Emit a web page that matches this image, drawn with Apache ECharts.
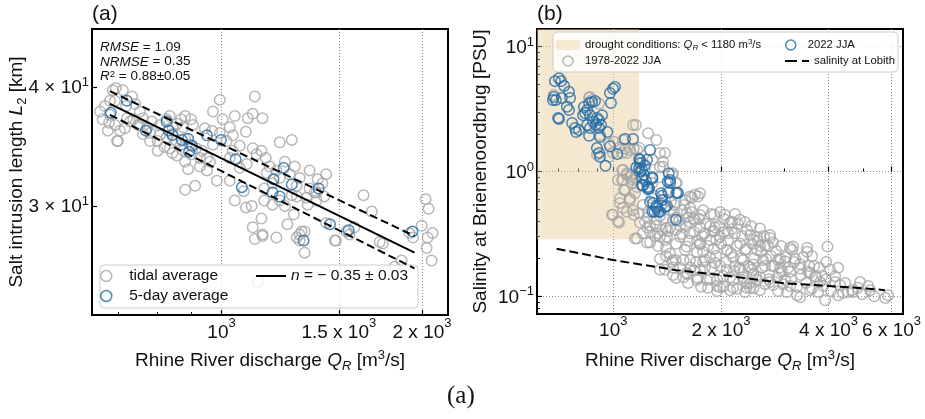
<!DOCTYPE html>
<html>
<head>
<meta charset="utf-8">
<script src="https://cdn.jsdelivr.net/npm/echarts@6.0.0/dist/echarts.min.js"></script>
<style>
html, body { margin: 0; padding: 0; background: #fff; }
#chart { width: 925px; height: 419px; }
</style>
</head>
<body>
<div id="chart"></div>
<script>
var FONT = '"Liberation Sans", Arial, sans-serif';
var GREY = '#a6a6a6';
var BLUE = '#1f6aa8';
var DROUGHT = 'rgba(232,204,150,0.45)';

// ---- panel (a): salt intrusion length vs discharge ----
var tidalAvg = [
  [687,39.7],[694,39.9],[711,39.7],[680,38.7],[692,38.7],[680,37.4],[678,36.7],[692,36.5],[716,36.2],[699,35.1],
  [734,39.1],[742,38.4],[754,37.7],[737,37.0],[721,37.1],[762,37.1],[704,36.0],[749,36.5],[802,34.3],[773,36.2],
  [781,35.8],[786,36.8],[808,36.5],[827,37.0],[836,37.3],[844,36.3],[857,36.6],[869,37.0],[882,37.3],[900,37.0],
  [876,36.3],[844,35.7],[827,35.4],[854,35.1],[836,34.5],[869,34.8],[882,35.3],[897,34.8],[916,34.5],[900,34.0],
  [928,33.7],[951,33.7],[961,33.4],[882,33.4],[891,32.8],[928,33.0],[968,36.0],[971,37.7],[994,38.8],[1004,37.0],
  [1029,36.3],[1040,35.6],[994,35.8],[1018,35.1],[971,34.8],[1040,34.3],[1029,33.7],[1065,32.9],[1091,33.2],[1114,34.5],
  [1129,34.0],[1095,37.1],[1122,39.1],[1152,37.1],[1114,37.5],[1165,33.7],[1181,33.0],[1209,32.7],[1193,31.7],[1223,32.1],
  [1275,35.2],[1266,32.4],[1310,32.1],[1297,31.5],[1356,31.3],[1389,31.0],[1436,32.4],[1417,31.7],[984,31.9],[951,32.7],
  [913,31.5],[882,31.2],[844,34.1],[802,35.1],[762,35.7],[697,35.1],
  [1088,29.9],[1110,30.0],[1193,30.1],[1284,29.4],[1256,28.7],[1114,28.5],[1152,28.0],[1122,27.7],[1209,27.8],[1310,28.0],
  [1310,27.6],[1333,28.2],[1333,26.8],[1480,27.6],[1436,28.8],[1541,28.2],[1557,28.0],[1584,28.5],[1681,29.6],[1728,27.5],
  [1746,27.4],[1820,25.9],[1863,26.3],[1916,28.1],[1998,28.6],[2025,30.5],[2039,27.8],[2074,28.1],[2032,27.1],[2067,26.3],
  [1939,27.8],[2046,29.8],[1133,25.0],[1634,30.8],[1347,30.1],[1389,30.4],[1275,30.8],
  [1223,30.4],[1223,35.0],[1159,31.3],[1342,30.6],[1297,30.7],[1380,31.0],[1485,27.6],[1319,28.2],[1297,27.8],[1152,27.9],
  [906,36.5],[944,36.2],[935,34.3],[876,34.3],[857,33.9],[821,34.6],[808,35.6],[781,35.1],[754,36.5],[729,36.8],
  [668,38.2],[663,37.0],[675,36.0],[657,37.7],[719,38.2],[1047,37.3],[1065,34.7],[1088,35.9],[1148,34.3],[1169,32.5],
  [1245,33.4],[1288,33.0],[1356,32.7],[1394,32.0],[1426,30.7],[1245,30.0],[1159,30.4],[1080,31.1],[1047,30.4],[1148,29.1],[1029,31.9]
];
var fiveDayAvg = [
  [682,37.6],[721,38.7],[770,36.0],[827,36.8],[833,36.0],[844,35.6],[872,35.2],[891,35.3],[903,34.7],[894,34.2],
  [951,35.6],[998,35.2],[1050,33.6],[1073,31.4],[1197,32.0],[1240,32.9],[1275,31.6],[1193,31.0],[1223,30.7],[1399,31.3],
  [1455,28.7],[1552,28.3],[1328,27.6],[1935,28.2]
];
var fitQ = [680, 1949];
var fitL = [38.4, 26.8];
var fitUpperL = [39.6, 27.9];
var fitLowerL = [37.4, 25.8];

var xRangeA = [639.1, 2188];
var yRangeA = [23.05, 46.03];
var xTicksA = [1000, 1500, 2000];
var xTickLabelsA = ['10^3', '1.5 x 10^3', '2 x 10^3'];
var xMinorA = [700, 800, 900];
var yTicksA = [30, 40];
var yTickLabelsA = ['3 \u00d7 10^1', '4 \u00d7 10^1'];

// ---- panel (b): salinity at Brienenoordbrug vs discharge ----
var jjaAll = [
  [682,4.1],[855,3.9],[872,3.74],[913,3.5],[889,2.36],[918,1.96],[1005,1.73],[973,1.67],[1038,1.55],[1079,1.52],
  [1113,1.49],[1157,2.36],[1142,1.52],[1058,1.41],[1092,1.41],[1165,1.49],[1058,1.03],[1092,0.94],[1128,0.94],[1071,0.71],
  [1044,0.61],[1113,0.59],[1150,0.67],[1165,0.75],[992,0.45],[1038,0.39],[1142,0.45],[1150,0.29],[1092,0.475],[1181,0.465],
  [900,1.36],[973,1.31],[861,3.96],[1065,1.79],[998,1.41],[1065,1.03],[1113,0.9],[1058,0.855],[1136,2.36],[1181,1.55],
  [1243,0.75],[1351,1.41],[1351,1.09],[1378,1.2],[1468,0.97],[1505,0.81],[1639,0.63],[1748,0.67],[1725,0.63],[1031,0.4],
  [1065,0.51],[1165,0.29],[1243,0.27],[1333,0.32],[1413,0.3],[1468,0.41],[1441,0.355],[1604,0.154],[1725,0.14],[1468,0.195],
  [1675,0.42],[1900,0.33],[2121,0.39],[2190,0.32],[2366,0.34],[2573,0.35],[2744,0.31],[2800,0.27],[3122,0.245],[3183,0.25],
  [3485,0.245],[3972,0.25],[3122,0.157],[3508,0.157],[3690,0.143],[3788,0.13],[3915,0.093],[3330,0.098],[4307,0.123],[4390,0.106],
  [4650,0.112],[4830,0.117],[5760,0.097],[2573,0.142],[2870,0.14],[2220,0.115],[2360,0.117],[2030,0.12],[2413,0.17],[2927,0.17],
  [2927,0.2],[2623,0.195],[1748,0.26],[1989,0.175],[1826,0.135],[2163,0.135],[2800,0.123],[2465,0.283],[3163,0.235],[3485,0.227],
  [2889,0.195],[3551,0.154],[3838,0.146],[2965,0.157],[2780,0.175],[4680,0.108],[4250,0.102],[3740,0.108],[3551,0.112],[3265,0.102],
  [3060,0.108],[2573,0.112],[2413,0.117],[5870,0.102],[1692,0.65],[1660,0.62],[1604,0.465],[1692,0.409],[2149,0.395],[2413,0.31],
  [2524,0.3],[1495,0.425],[1243,0.355],[1267,0.27],[1441,0.22],[1468,0.17],[1614,0.15],[1748,0.163],[1952,0.135],[1989,0.118],
  [2163,0.117],[2360,0.127],[2465,0.116],[1404,0.245],[1351,0.3],[1537,0.3],[1604,0.25],[1748,0.265],[1865,0.283],[1989,0.3],
  [1714,0.225],[1865,0.205],[2075,0.235],[2163,0.205],[2262,0.265],[2306,0.195],[1925,0.185],[1572,0.195],[2075,0.163],[2262,0.163],
  [2465,0.18],[2524,0.235],[2465,0.15],[1495,0.34],[1748,0.355],[1925,0.355],[1404,0.35],[1320,0.41],[1243,0.425],[1188,0.39],
  [1211,0.32],[1639,0.32],[1803,0.32],[2094,0.32],[1351,0.2],[1495,0.195],[1803,0.17],[1647,0.17],[1468,0.148],[1572,0.142],
  [1714,0.135],[1840,0.117],[2121,0.142],[2306,0.142],[2524,0.135],[1079,0.71],[1113,0.61],[1044,0.56],[998,0.45],[1136,0.49],
  [1128,0.81],[1065,0.855],[1092,0.97],[1150,0.89],[1495,0.81],[1614,0.43],[1555,0.49],[1251,2.03],[1320,1.79],[1395,1.41],
  [1495,0.67],[1031,0.855],[1136,0.855],[1203,1.17],[1226,1.03],[1286,1.24],[1378,1.09],[1460,0.94],[1351,0.9],[1286,0.81],
  [1420,0.71],[1303,0.64],[1395,0.59],[1487,0.54],[1589,0.59],[1351,0.44],[1441,0.49],[1537,0.37],[1639,0.51],[1784,0.49],
  [1912,0.45],[2049,0.45],[2262,0.41],[2337,0.235],[2656,0.255],[2656,0.175],[3025,0.19],[3224,0.2],[3330,0.167],[3644,0.175],
  [4040,0.163],[4170,0.13],[4900,0.13],[5226,0.112],[3025,0.135],[2744,0.13],[1912,0.24],[1639,0.195],[1351,0.163],[1267,0.37],
  [1395,0.283],[1784,0.19],[2190,0.175],[1952,0.11],
  // dense cloud 1300-4000 m3/s
  [1211,0.538],[1250,0.474],[1283,0.613],[1317,0.366],[1369,0.538],[1386,0.425],[1422,0.334],[1450,0.57],[1478,0.474],[1498,0.263],
  [1527,0.402],[1557,0.316],[1577,0.538],[1597,0.366],[1628,0.278],[1660,0.474],[1682,0.328],[1704,0.188],[1737,0.417],[1771,0.304],
  [1782,0.227],[1817,0.38],[1841,0.253],[1877,0.457],[1889,0.169],[1914,0.334],[1938,0.21],[1976,0.366],[2002,0.263],[2028,0.145],
  [2041,0.417],[2067,0.188],[2094,0.278],[2135,0.222],[2149,0.346],[2176,0.16],[2219,0.253],[2233,0.38],[2277,0.202],[2292,0.304],
  [2321,0.133],[2351,0.239],[2382,0.175],[2429,0.366],[2445,0.263],[2476,0.202],[2508,0.145],[2540,0.278],[2590,0.227],[2606,0.169],
  [2640,0.304],[2674,0.199],[2709,0.253],[2726,0.137],[2762,0.21],[2816,0.175],[2852,0.231],[2908,0.154],[2946,0.253],[2984,0.125],
  [3043,0.206],[3083,0.169],[3142,0.137],[3203,0.188],[3265,0.119],[3352,0.148],[3395,0.206],[3460,0.128],[3528,0.175],[3597,0.116],
  [3668,0.145],[3764,0.169],[3862,0.121],[3938,0.137],[4066,0.11],[4172,0.145],[4450,0.128],[4537,0.108],[4964,0.104],[5160,0.121],
  [5363,0.1],[1334,0.253],[1404,0.21],[1459,0.188],[1537,0.169],[1618,0.128],[1682,0.16],[1759,0.119],[1865,0.137],[1951,0.121],
  [2121,0.112],[2336,0.108],[1308,0.304],[1369,0.34],[1267,0.328],[1226,0.394],[1639,0.394],[1748,0.449],[1865,0.366],[1989,0.474],
  [2190,0.457],[2336,0.394],[2744,0.293],[2573,0.253],[1587,0.235],[1715,0.278],[1938,0.283],[2080,0.235],[2247,0.169],[2445,0.163],
  [2657,0.125],[2889,0.11],[3122,0.121],[3330,0.181],[3597,0.21],[3938,0.188],[4255,0.169],[1498,0.14],[1395,0.163],[1805,0.195],
  [2041,0.328],[2413,0.128]
];
var jja2022 = [
  [687,5.3],[705,5.6],[715,5.3],[729,4.85],[752,4.35],[682,3.95],[691,3.74],[718,3.88],[757,3.88],[742,3.3],
  [752,3.11],[705,2.64],[767,2.45],[782,2.23],[802,2.15],[787,2.07],[828,3.29],[845,3.11],[834,2.94],[872,3.6],
  [889,3.67],[856,3.54],[823,2.83],[861,2.83],[900,2.69],[878,2.5],[912,2.59],[930,2.83],[845,2.36],[861,2.23],
  [895,2.36],[924,2.36],[912,2.23],[856,1.93],[918,1.89],[962,2.07],[979,4.26],[1011,4.75],[985,3.54],[900,1.54],
  [912,1.41],[918,1.31],[951,1.11],[979,1.59],[1026,1.38],[1079,1.82],[1136,1.82],[1267,1.49],[1181,1.26],[1188,1.17],
  [1181,1.06],[1203,1.03],[1219,0.94],[1286,0.88],[1429,0.97],[1441,0.855],[1211,0.77],[1259,0.73],[1267,0.57],[1292,0.56],
  [1320,0.51],[1369,0.64],[1429,0.68],[1395,0.52],[1497,0.41],[1303,0.475],[1337,0.475],[1160,1.08],[1188,1.24],[678,3.74],
  [701,2.69],[998,4.6],[1251,0.75],[1507,0.68],[1420,0.83],[1203,0.78],[1251,0.72],[1441,0.81],[1517,0.67],[1360,0.67],
  [1369,0.59],[1320,0.53],[1286,0.475],[1351,0.475],[1413,0.53],[1188,1.0],[1286,0.9],[1226,1.12],[1243,1.24],[1203,0.89],[1234,0.84]
];
var lobithQ = [694, 800, 918, 1000, 1500, 2000, 2572, 3000, 4000, 5000, 5750];
var lobithS = [0.24, 0.222, 0.205, 0.195, 0.162, 0.148, 0.135, 0.127, 0.121, 0.116, 0.112];
var droughtQ = 1180;
var droughtSmin = 0.286;

var xRangeB = [611.9, 6459];
var yRangeB = [0.0721, 13.87];
var xTicksB = [1000, 2000, 4000, 6000];
var xTickLabelsB = ['10^3', '2 x 10^3', '4 x 10^3', '6 x 10^3'];
var xMinorB = [700, 800, 900, 3000, 5000];
var yTicksB = [0.1, 1, 10];
var yTickLabelsB = ['10^\u22121', '10^0', '10^1'];
var yMinorB = [0.08, 0.09, 0.2, 0.3, 0.4, 0.5, 0.6, 0.7, 0.8, 0.9, 2, 3, 4, 5, 6, 7, 8, 9];

// ---- helpers ----
var lg = Math.log10;
function logPts(pts) {
  return pts.map(function (p) { return [lg(p[0]), lg(p[1])]; });
}
function zipLog(xs, ys) {
  return xs.map(function (x, i) { return [lg(x), lg(ys[i])]; });
}
function supLabel(s) {
  var k = s.indexOf('^');
  if (k < 0) return '{n|' + s + '}';
  return '{n|' + s.slice(0, k) + '}{s|' + s.slice(k + 1) + '}';
}
function tickFormatter(ticks, labels) {
  return function (v) {
    for (var i = 0; i < ticks.length; i++) {
      if (Math.abs(lg(ticks[i]) - v) < 1e-6) return supLabel(labels[i]);
    }
    return '';
  };
}

var richX = {
  n: {fontFamily: FONT, fontSize: 19, color: '#111', lineHeight: 32},
  s: {fontFamily: FONT, fontSize: 13, color: '#111', lineHeight: 10, verticalAlign: 'top'}
};
var richY = {
  n: {fontFamily: FONT, fontSize: 19, color: '#111', lineHeight: 22, padding: [2, 0, 0, 0]},
  s: {fontFamily: FONT, fontSize: 13, color: '#111', lineHeight: 6, verticalAlign: 'top'}
};
var richName = {
  i: {fontFamily: FONT, fontSize: 19, fontStyle: 'italic', color: '#111', lineHeight: 24},
  sub: {fontFamily: FONT, fontSize: 13, fontStyle: 'italic', color: '#111', lineHeight: 11, verticalAlign: 'bottom'},
  sb: {fontFamily: FONT, fontSize: 13, color: '#111', lineHeight: 11, verticalAlign: 'bottom'},
  sup: {fontFamily: FONT, fontSize: 13, color: '#111', lineHeight: 11, verticalAlign: 'top'}
};
var nameStyle = {fontFamily: FONT, fontSize: 19, color: '#111', lineHeight: 24, rich: richName};
var gridLine = {show: true, lineStyle: {type: [1, 2], color: '#8c8c8c', width: 1}};
var legendText = {fontFamily: FONT, fontSize: 15.5, color: '#111', lineHeight: 18};
var legendTextB = {fontFamily: FONT, fontSize: 11.3, color: '#111', lineHeight: 14};

function majorAxis(gi, range, ticks, labels, rich, extra) {
  var ax = {
    gridIndex: gi, type: 'value', min: lg(range[0]), max: lg(range[1]),
    axisLine: {show: false},
    axisTick: {show: true, inside: true, length: 5, customValues: ticks.map(lg), lineStyle: {color: '#000', width: 1.2}},
    axisLabel: {customValues: ticks.map(lg), formatter: tickFormatter(ticks, labels), rich: rich, hideOverlap: false},
    splitLine: {show: false},
    nameMoveOverlap: false
  };
  for (var k in extra) ax[k] = extra[k];
  return ax;
}
function minorAxis(gi, range, ticks, pos) {
  return {
    gridIndex: gi, type: 'value', position: pos, min: lg(range[0]), max: lg(range[1]),
    axisLine: {show: false},
    axisTick: {show: true, inside: true, length: 3, customValues: ticks.map(lg), lineStyle: {color: '#000', width: 1}},
    axisLabel: {show: false},
    splitLine: {show: false}
  };
}
function scatter(name, pts, color, xi, yi, z) {
  return {
    type: 'scatter', name: name, xAxisIndex: xi, yAxisIndex: yi, data: logPts(pts),
    symbol: 'circle', symbolSize: 10.5, z: z, silent: true,
    itemStyle: {color: 'transparent', borderColor: color, borderWidth: 1.5}
  };
}
function line(name, xs, ys, dash, xi, yi) {
  return {
    type: 'line', name: name, xAxisIndex: xi, yAxisIndex: yi, data: zipLog(xs, ys),
    symbol: 'none', silent: true, z: 4,
    itemStyle: {color: '#000'},
    lineStyle: {color: '#000', width: 2, type: dash}
  };
}

var chart = echarts.init(document.getElementById('chart'), null, {renderer: 'canvas'});
chart.setOption({
  animation: false,
  backgroundColor: '#fff',
  textStyle: {fontFamily: FONT},
  grid: [
    {left: 92, top: 29, width: 356, height: 286, show: true, borderColor: '#000', borderWidth: 2,
     containLabel: false, outerBoundsMode: 'none'},
    {left: 537, top: 29, width: 366, height: 285, show: true, borderColor: '#000', borderWidth: 2,
     containLabel: false, outerBoundsMode: 'none'}
  ],
  xAxis: [
    majorAxis(0, xRangeA, xTicksA, xTickLabelsA, richX, {
      position: 'bottom', splitLine: gridLine,
      name: 'Rhine River discharge {i|Q}{sub|R} [m{sup|3}/s]', nameLocation: 'middle', nameGap: 34, nameTextStyle: nameStyle,
      axisLabel: {customValues: xTicksA.map(lg), formatter: tickFormatter(xTicksA, xTickLabelsA), rich: richX, margin: 2, hideOverlap: false}
    }),
    minorAxis(0, xRangeA, xMinorA, 'bottom'),
    majorAxis(1, xRangeB, xTicksB, xTickLabelsB, richX, {
      position: 'bottom', splitLine: gridLine,
      name: 'Rhine River discharge {i|Q}{sub|R} [m{sup|3}/s]', nameLocation: 'middle', nameGap: 35, nameTextStyle: nameStyle,
      axisLabel: {customValues: xTicksB.map(lg), formatter: tickFormatter(xTicksB, xTickLabelsB), rich: richX, margin: 1, hideOverlap: false}
    }),
    minorAxis(1, xRangeB, xMinorB, 'bottom')
  ],
  yAxis: [
    majorAxis(0, yRangeA, yTicksA, yTickLabelsA, richY, {
      position: 'left',
      name: 'Salt intrusion length {i|L}{sb|2} [km]', nameLocation: 'middle', nameGap: 63, nameTextStyle: nameStyle,
      axisLabel: {customValues: yTicksA.map(lg), formatter: tickFormatter(yTicksA, yTickLabelsA), rich: richY, margin: 3, hideOverlap: false}
    }),
    majorAxis(1, yRangeB, yTicksB, yTickLabelsB, richY, {
      position: 'left', splitLine: gridLine,
      name: 'Salinity at Brienenoordbrug [PSU]', nameLocation: 'middle', nameGap: 44, nameTextStyle: nameStyle,
      axisLabel: {customValues: yTicksB.map(lg), formatter: tickFormatter(yTicksB, yTickLabelsB), rich: richY, margin: 3, hideOverlap: false}
    }),
    minorAxis(1, yRangeB, yMinorB, 'left')
  ],
  legend: [
    {data: ['tidal average', '5-day average'], left: 100, top: 267, orient: 'vertical', padding: 0,
     itemWidth: 36, itemHeight: 11, itemGap: 2, selectedMode: false,
     itemStyle: {borderWidth: 1.5}, textStyle: legendText},
    {data: [{name: 'fit', icon: 'rect'}], left: 256, top: 267, padding: 0, itemWidth: 30, itemHeight: 2, selectedMode: false,
     formatter: function () { return '{i|n} = \u2212 0.35 \u00b1 0.03'; },
     textStyle: {fontFamily: FONT, fontSize: 15.5, color: '#111', lineHeight: 18,
       rich: {i: {fontFamily: FONT, fontSize: 15.5, fontStyle: 'italic', color: '#111', lineHeight: 18}}}},
    {data: [{name: 'drought', icon: 'rect'}, '1978-2022 JJA'], left: 556, top: 38, orient: 'vertical', padding: 0,
     itemWidth: 24, itemHeight: 10, itemGap: 2, selectedMode: false,
     itemStyle: {borderWidth: 1.5},
     formatter: function (n) {
       return n === 'drought' ? 'drought conditions: {i|Q}{sub|R} < 1180 m{sup|3}/s' : n;
     },
     textStyle: {fontFamily: FONT, fontSize: 11.3, color: '#111', lineHeight: 14,
       rich: {
         i: {fontFamily: FONT, fontSize: 11.3, fontStyle: 'italic', color: '#111', lineHeight: 14},
         sub: {fontFamily: FONT, fontSize: 8, fontStyle: 'italic', color: '#111', lineHeight: 7, verticalAlign: 'bottom'},
         sup: {fontFamily: FONT, fontSize: 8, color: '#111', lineHeight: 7, verticalAlign: 'top'}
       }}},
    {data: ['2022 JJA'], left: 785, top: 38, padding: 0,
     itemWidth: 24, itemHeight: 10, selectedMode: false,
     itemStyle: {borderWidth: 1.5}, textStyle: legendTextB},
    {data: [{name: 'salinity at Lobith', icon: 'path://M0,0h12v2h-12z M17,0h7v2h-7z'}], left: 785, top: 54, padding: 0,
     itemWidth: 24, itemHeight: 2, selectedMode: false, textStyle: legendTextB}
  ],
  graphic: [
    {type: 'rect', z: 3, silent: true, shape: {x: 100, y: 265, width: 318, height: 43, r: 4},
     style: {fill: 'rgba(255,255,255,0.8)', stroke: '#cccccc', lineWidth: 1}},
    {type: 'rect', z: 3, silent: true, shape: {x: 553, y: 32, width: 345, height: 40, r: 4},
     style: {fill: 'rgba(255,255,255,0.8)', stroke: '#cccccc', lineWidth: 1}},
    {type: 'text', z: 5, left: 100, top: 40, silent: true,
     style: {text: '{i|RMSE} = 1.09\n{i|NRMSE} = 0.35\n{i|R}{sup|2} = 0.88\u00b10.05',
       fontFamily: FONT, fontSize: 13.5, lineHeight: 14.5, fill: '#111',
       rich: {
         i: {fontFamily: FONT, fontSize: 13.5, fontStyle: 'italic', fill: '#111', lineHeight: 14.5},
         sup: {fontFamily: FONT, fontSize: 9.5, fill: '#111', lineHeight: 7, verticalAlign: 'top'}
       }}},
    {type: 'text', left: 92, top: 4, silent: true,
     style: {text: '(a)', fontFamily: FONT, fontSize: 21, fill: '#111'}},
    {type: 'text', left: 537, top: 4, silent: true,
     style: {text: '(b)', fontFamily: FONT, fontSize: 21, fill: '#111'}},
    {type: 'text', left: 447, top: 384, silent: true,
     style: {text: '(a)', fontFamily: '"Liberation Serif", "DejaVu Serif", serif', fontSize: 25, fill: '#111'}}
  ],
  series: [
    scatter('tidal average', tidalAvg, GREY, 0, 0, 2),
    scatter('5-day average', fiveDayAvg, BLUE, 0, 0, 3),
    line('fit', fitQ, fitL, 'solid', 0, 0),
    line('fit upper', fitQ, fitUpperL, [8, 4], 0, 0),
    line('fit lower', fitQ, fitLowerL, [8, 4], 0, 0),
    {type: 'scatter', name: 'drought', xAxisIndex: 2, yAxisIndex: 1, data: [], z: 1, silent: true,
     itemStyle: {color: DROUGHT},
     markArea: {silent: true, itemStyle: {color: DROUGHT},
       data: [[{coord: [lg(xRangeB[0]), lg(droughtSmin)]}, {coord: [lg(droughtQ), lg(yRangeB[1])]}]]}},
    scatter('1978-2022 JJA', jjaAll, GREY, 2, 1, 2),
    scatter('2022 JJA', jja2022, BLUE, 2, 1, 3),
    line('salinity at Lobith', lobithQ, lobithS, [9, 4], 2, 1)
  ]
});
</script>
</body>
</html>
